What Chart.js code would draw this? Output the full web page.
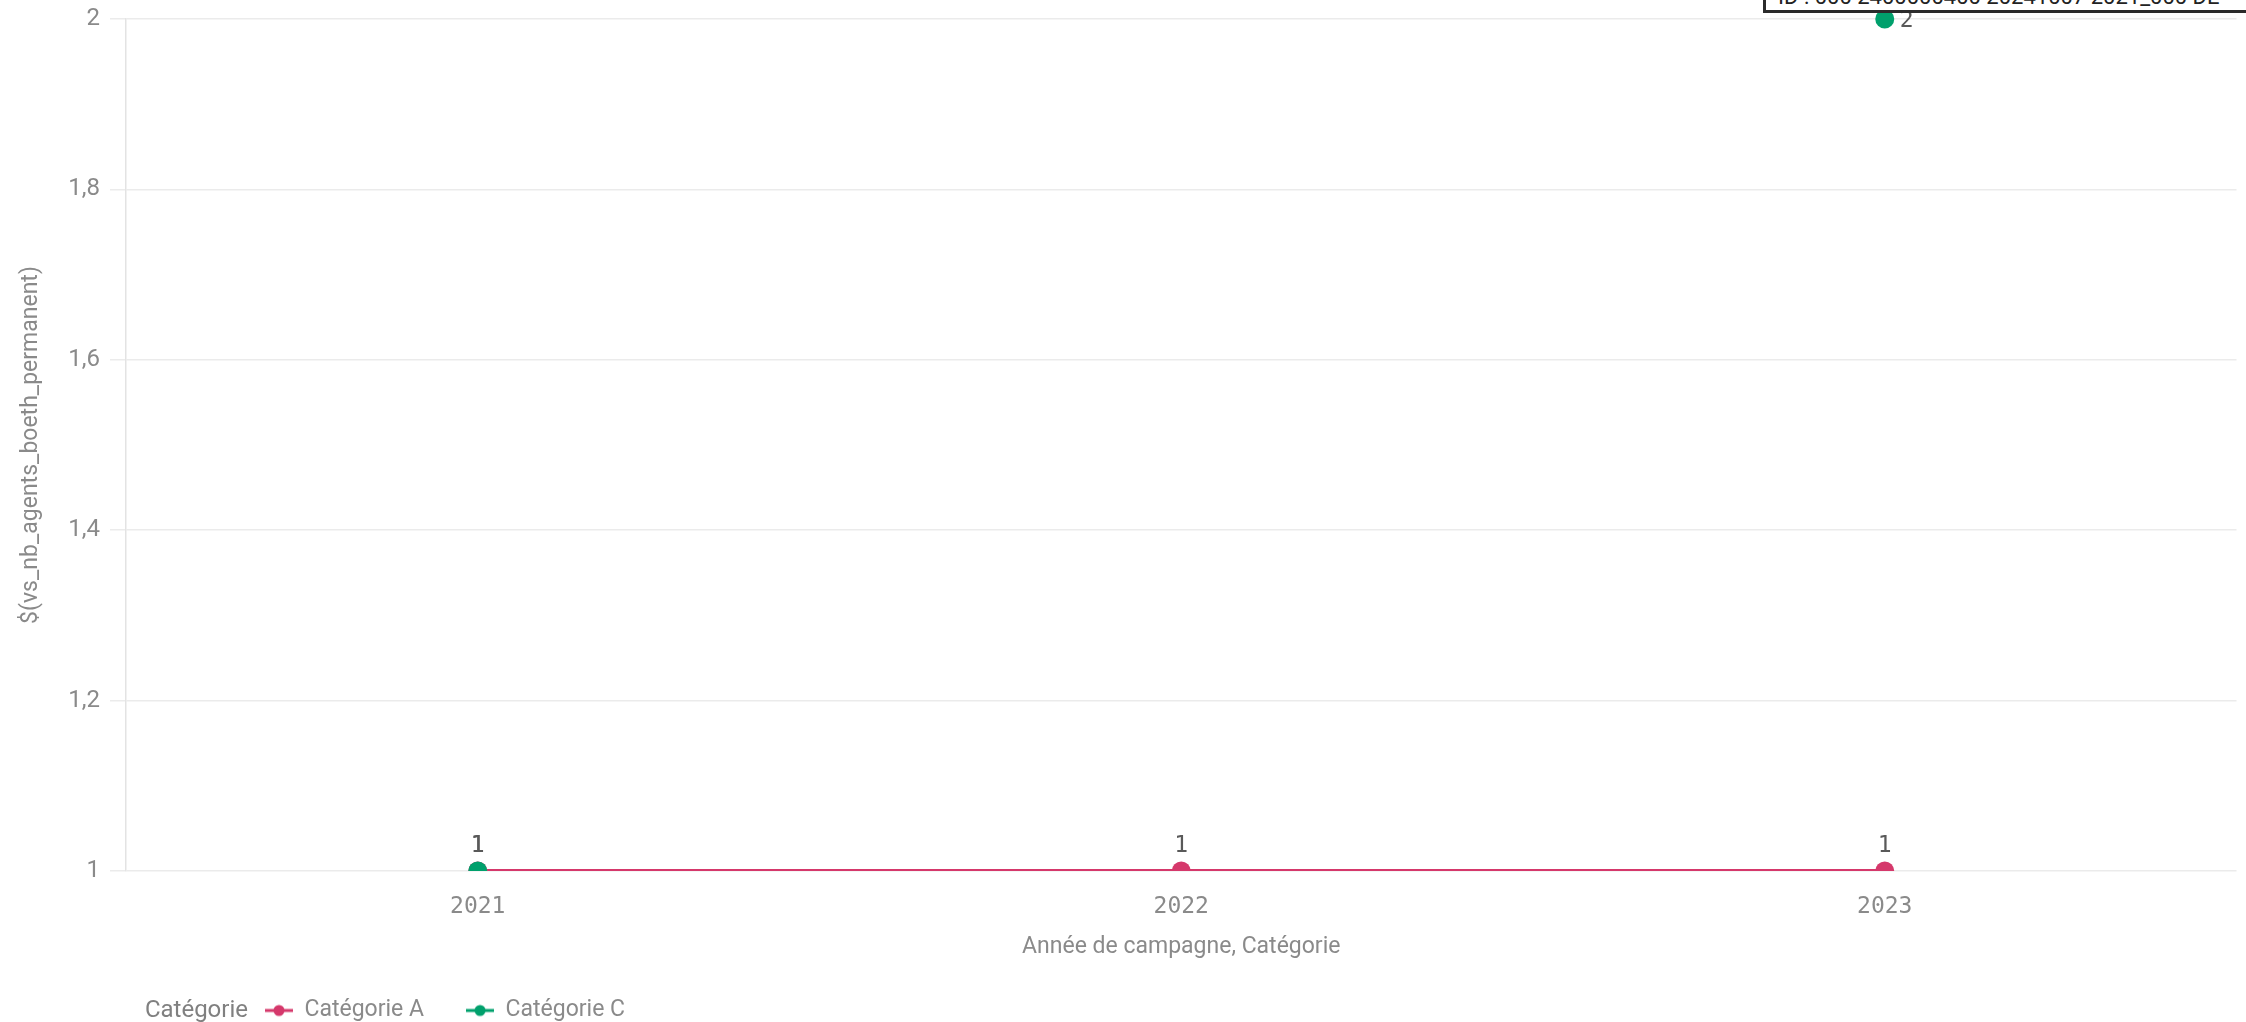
<!DOCTYPE html>
<html>
<head>
<meta charset="utf-8">
<script src="https://cdn.jsdelivr.net/npm/chart.js@4.4.1/dist/chart.umd.min.js"></script>
<style>
  html, body { margin: 0; padding: 0; background: #fff; overflow: hidden; }
  #wrap { position: relative; width: 2246px; height: 1022px; overflow: hidden; }
  #tip {
    position: absolute; left: 1763px; top: -30px; width: 620px; height: 43px;
    box-sizing: border-box; border: 3px solid #2b2b2b; background: #fff;
    font: 22px Roboto, sans-serif; color: #222; padding: 0 12px 1px 12px;
    display: flex; align-items: flex-end; white-space: nowrap;
  }
</style>
</head>
<body>
<div id="wrap">
  <canvas id="chart" width="2246" height="1022"></canvas>
  <div id="tip">ID : 000 2400000400 20241007 2021_000 DE</div>
</div>
<script>
// données
const years = ['2021', '2022', '2023'];
const categorieA = [1, 1, 1];
const categorieC = [1, null, 2];
const yTicks = [1, 1.2, 1.4, 1.6, 1.8, 2];

const colorA = '#d5386b';
const colorC = '#00a06c';
const greyText = '#8a8a8a';
const legendTitle = 'Catégorie';

// petite icône ligne + point pour la légende
function legendIcon(color) {
    const c = document.createElement('canvas');
    c.width = 28; c.height = 14;
    const g = c.getContext('2d');
    g.strokeStyle = color; g.lineWidth = 3;
    g.beginPath(); g.moveTo(0, 7); g.lineTo(28, 7); g.stroke();
    g.fillStyle = color;
    g.beginPath(); g.arc(14, 7, 5.5, 0, Math.PI * 2); g.fill();
    return c;
}
const icons = [legendIcon(colorA), legendIcon(colorC)];
const legendPad = 42;

// étiquettes de valeur au-dessus des points
const valueLabels = {
    id: 'valueLabels',
    afterDatasetsDraw(chart) {
        const ctx = chart.ctx;
        const area = chart.chartArea;
        ctx.save();
        ctx.font = '23px "DejaVu Sans Mono"';
        ctx.fillStyle = '#595959';
        chart.data.datasets.forEach((ds, i) => {
            chart.getDatasetMeta(i).data.forEach((pt, j) => {
                const v = ds.data[j];
                if (v == null) return;
                if (pt.y - 40 < area.top) {
                    ctx.textAlign = 'left';
                    ctx.textBaseline = 'middle';
                    ctx.fillText(String(v), pt.x + 15, pt.y + 2);
                } else {
                    ctx.textAlign = 'center';
                    ctx.textBaseline = 'alphabetic';
                    ctx.fillText(String(v), pt.x, pt.y - 19);
                }
            });
        });
        ctx.restore();
    }
};

// légende à la Qlik : hauteur fixe, décalée, avec son titre à gauche
const legendLayout = {
    id: 'legendLayout',
    beforeLayout(chart) {
        const lg = chart.legend;
        if (lg && !lg._fixed) {
            const fit = lg.fit;
            lg.fit = function () { fit.call(this); this.height = 60; };
            lg._fixed = true;
        }
    },
    afterLayout(chart) {
        chart.legend.left = 223;
        chart.legend.top = 957;
    },
    afterDraw(chart) {
        const ctx = chart.ctx;
        const lg = chart.legend;
        ctx.save();
        ctx.font = '24px Roboto';
        ctx.fillStyle = '#808080';
        ctx.textAlign = 'right';
        ctx.textBaseline = 'middle';
        ctx.fillText(legendTitle, lg.left + legendPad - 17, lg.top + legendPad + 12);
        ctx.restore();
    }
};

new Chart(document.getElementById('chart'), {
    type: 'line',
    data: {
        labels: years,
        datasets: [
            {
                label: 'Catégorie A',
                data: categorieA,
                borderColor: colorA,
                backgroundColor: colorA,
                borderWidth: 4,
                pointRadius: 9.5,
                pointBorderWidth: 0,
                pointHoverRadius: 9.5,
                order: 1,
                clip: { left: 20, top: 20, right: 20, bottom: 0 }
            },
            {
                label: 'Catégorie C',
                data: categorieC,
                borderColor: colorC,
                backgroundColor: colorC,
                borderWidth: 4,
                pointRadius: 9.5,
                pointBorderWidth: 0,
                pointHoverRadius: 9.5,
                order: 0,
                clip: { left: 20, top: 20, right: 20, bottom: 0 }
            }
        ]
    },
    options: {
        responsive: false,
        animation: false,
        devicePixelRatio: 1,
        layout: { padding: { top: 19, right: -2, left: 0, bottom: 0 } },
        scales: {
            x: {
                offset: true,
                grid: { display: false },
                border: { display: false },
                ticks: {
                    color: greyText,
                    font: { family: 'DejaVu Sans Mono', size: 23 },
                    padding: 14
                },
                title: {
                    display: true,
                    text: 'Année de campagne, Catégorie',
                    color: greyText,
                    font: { family: 'Roboto', size: 23 },
                    padding: { top: 0, bottom: 1 }
                },
                afterFit: s => { s.height = 91; s.paddingLeft = 0; s.paddingRight = 0; }
            },
            y: {
                min: 1,
                max: 2,
                afterBuildTicks: s => { s.ticks = yTicks.map(v => ({ value: v })); },
                grid: { color: '#ebebeb', tickColor: '#ebebeb', tickLength: 16, lineWidth: 1.5 },
                border: { color: '#e3e3e3', width: 1.5 },
                ticks: {
                    color: greyText,
                    font: { family: 'Roboto', size: 24 },
                    padding: 10,
                    callback: v => String(+v.toFixed(1)).replace('.', ',')
                },
                title: {
                    display: true,
                    text: '$(vs_nb_agents_boeth_permanent)',
                    color: greyText,
                    font: { family: 'Roboto', size: 23 },
                    padding: { top: 17, bottom: 0 }
                },
                afterFit: s => { s.width = 126; s.paddingTop = 0; s.paddingBottom = 0; }
            }
        },
        plugins: {
            tooltip: { enabled: false },
            legend: {
                position: 'bottom',
                align: 'start',
                onClick: null,
                labels: {
                    usePointStyle: true,
                    pointStyleWidth: 28,
                    color: greyText,
                    font: { family: 'Roboto', size: 23 },
                    padding: legendPad,
                    generateLabels: chart => {
                        const items = Chart.defaults.plugins.legend.labels.generateLabels(chart);
                        items.forEach(it => { it.pointStyle = icons[it.datasetIndex]; });
                        return items.sort((a, b) => a.datasetIndex - b.datasetIndex);
                    }
                }
            }
        }
    },
    plugins: [valueLabels, legendLayout]
});
</script>
</body>
</html>
